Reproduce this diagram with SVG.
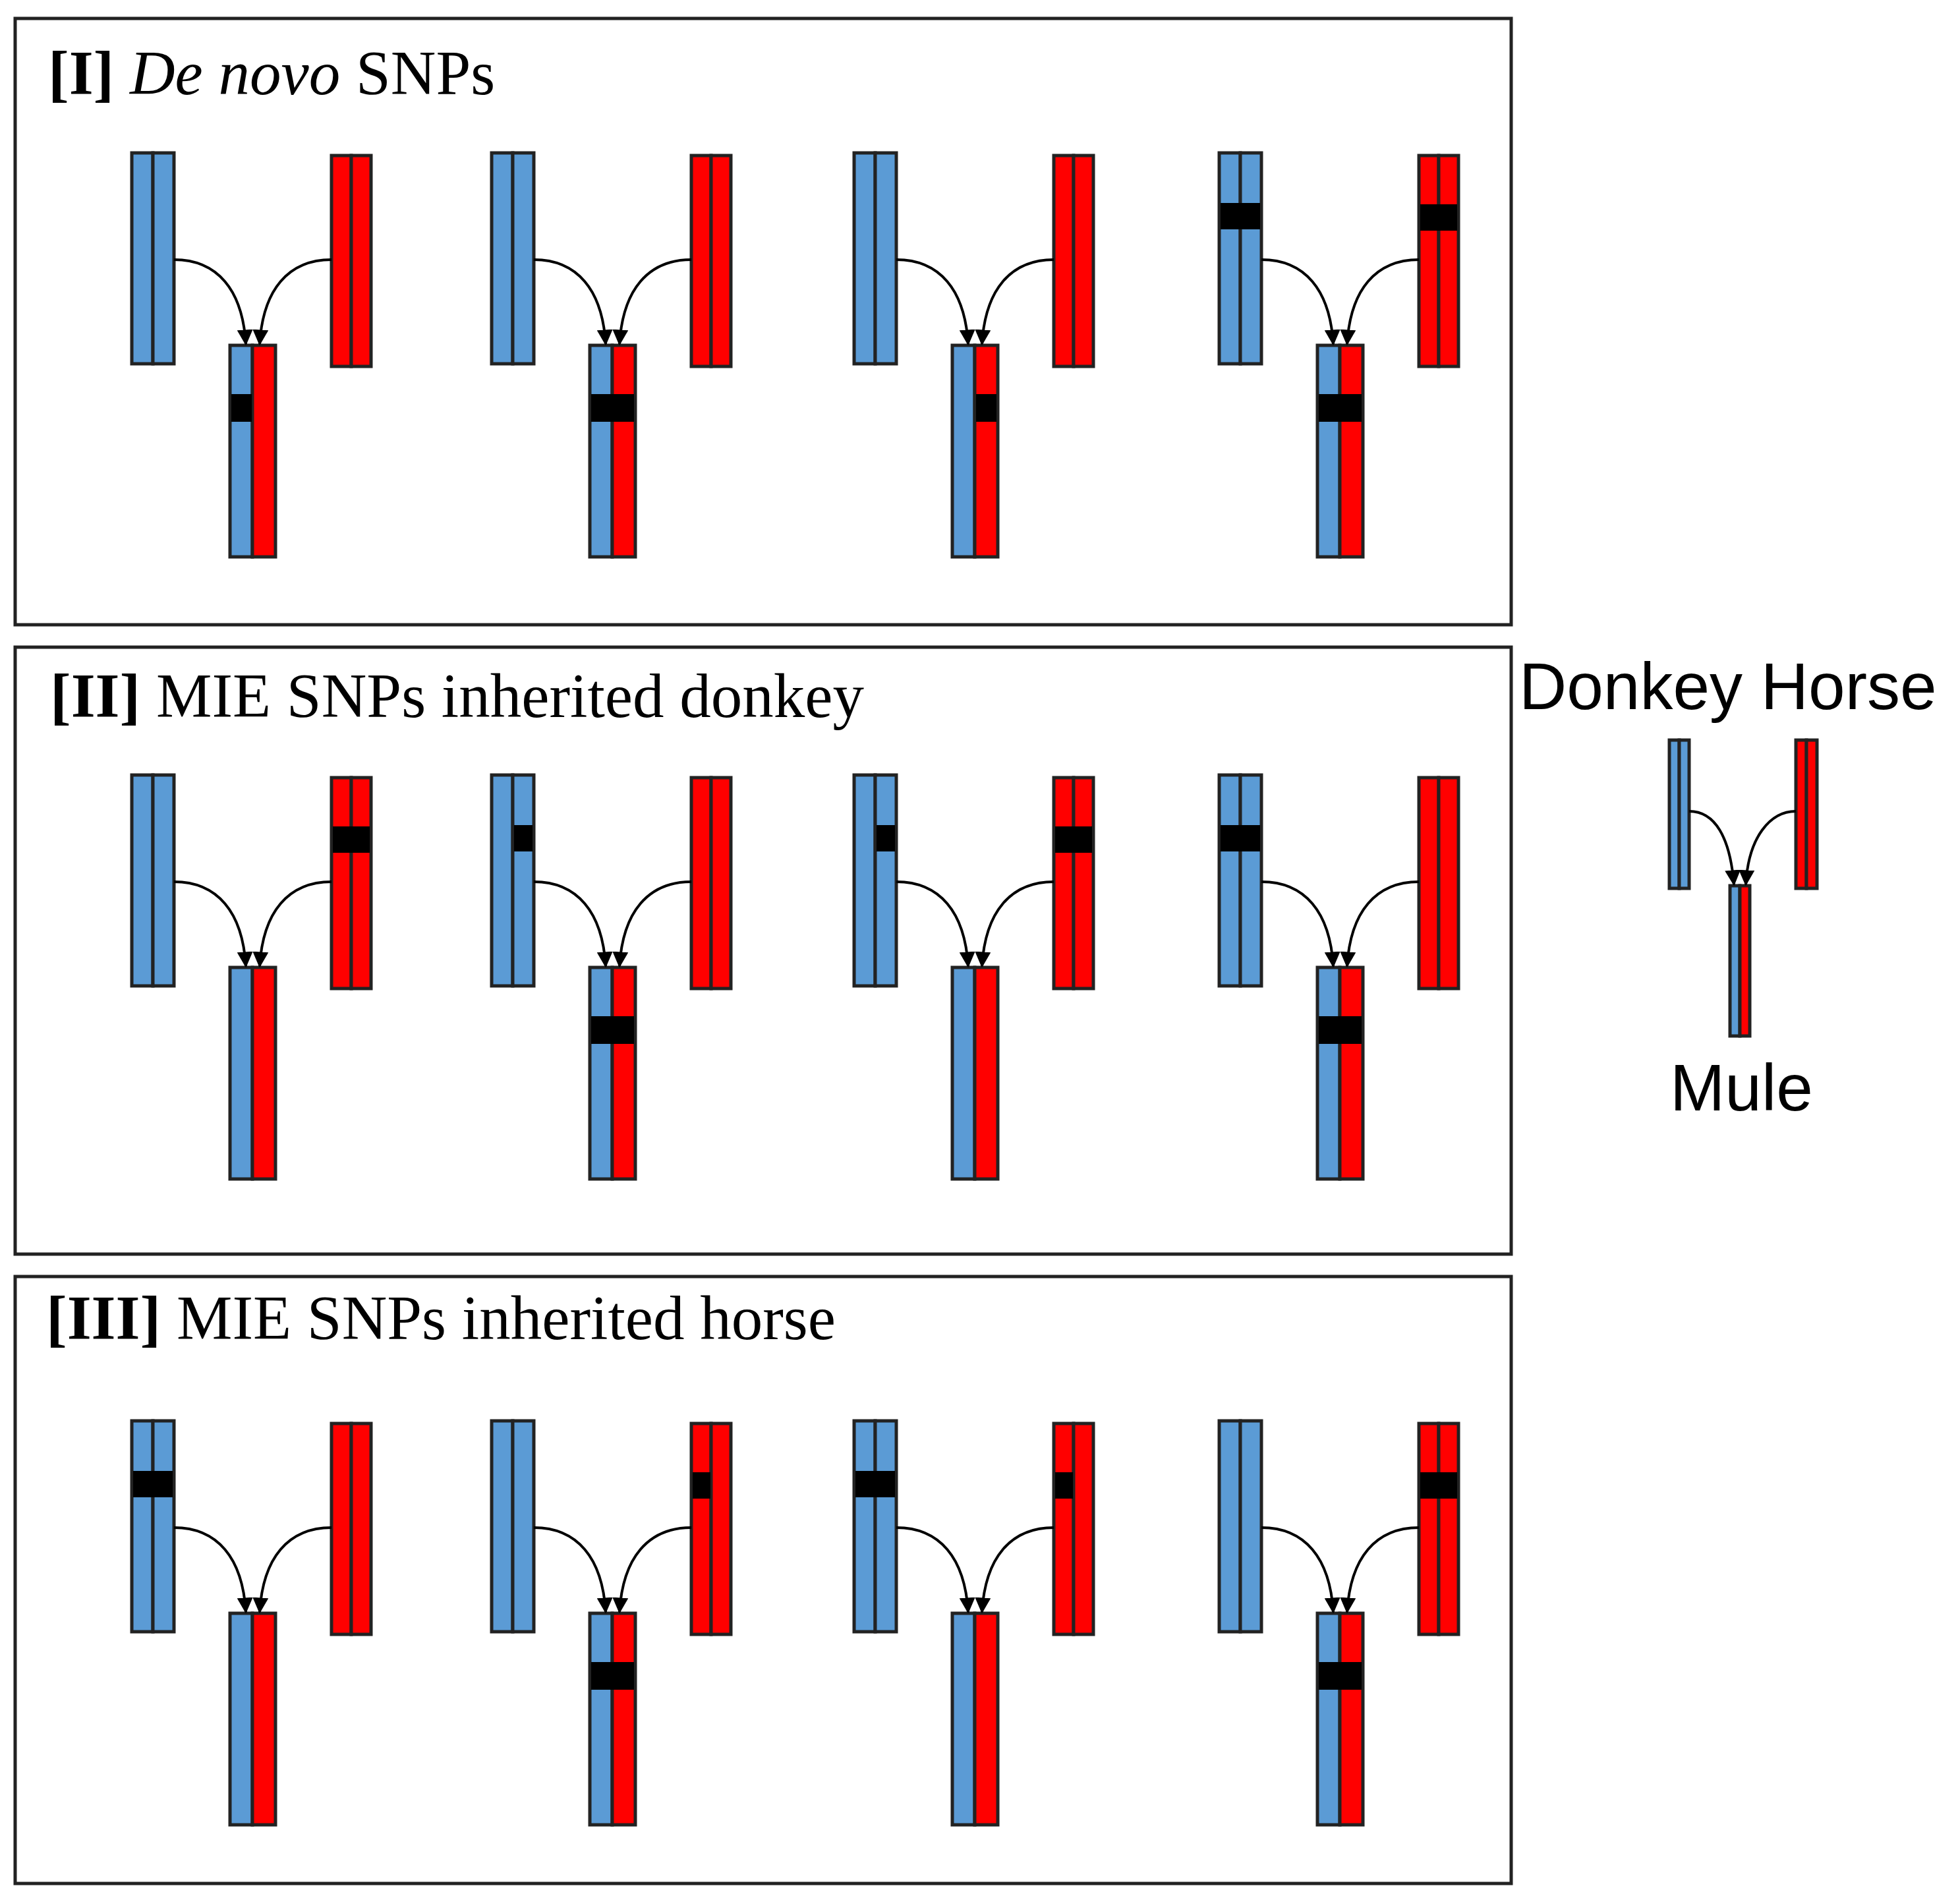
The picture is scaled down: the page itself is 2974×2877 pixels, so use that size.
<svg xmlns="http://www.w3.org/2000/svg" xmlns:xlink="http://www.w3.org/1999/xlink" width="2974" height="2877" viewBox="0 0 2974 2877">
<style>
.panel{fill:none;stroke:#222;stroke-width:5}
.b{fill:#5b9bd5;stroke:#222;stroke-width:5}
.r{fill:#ff0000;stroke:#222;stroke-width:5}
.k{fill:#000}
.c{fill:none;stroke:#000;stroke-width:4;marker-end:url(#ah)}
.t{font-family:"Liberation Serif",serif;font-size:95px;fill:#000}
.s{font-family:"Liberation Sans",Arial,sans-serif;font-size:100px;fill:#000}
</style>
<defs>
<marker id="ah" viewBox="0 0 10 10" refX="9" refY="5" markerWidth="6" markerHeight="6" orient="auto" markerUnits="strokeWidth"><path d="M0,0 L10,5 L0,10 z" fill="#000"/></marker>
<g id="chr">
<rect class="b" x="200" y="232" width="32" height="320"/><rect class="b" x="232" y="232" width="32" height="320"/>
<rect class="r" x="503" y="236" width="30" height="320"/><rect class="r" x="533" y="236" width="30" height="320"/>
<rect class="b" x="349" y="524" width="34" height="321"/><rect class="r" x="383" y="524" width="35" height="321"/>
</g>
<g id="arr">
<path class="c" d="M264,394 C330,394 368,440 373,522"/>
<path class="c" d="M503,394 C437,394 399,440 394,522"/>
</g>
<rect id="DB" class="k" x="202" y="308" width="60" height="40"/>
<rect id="DR" class="k" x="234" y="308" width="28" height="40"/>
<rect id="HB" class="k" x="505" y="310" width="56" height="40"/>
<rect id="HL" class="k" x="505" y="310" width="27" height="40"/>
<rect id="MB" class="k" x="351" y="598" width="65" height="42"/>
<rect id="ML" class="k" x="351" y="598" width="31" height="42"/>
<rect id="MR" class="k" x="385" y="598" width="31" height="42"/>
</defs>
<g id="panels">
<rect class="panel" x="23" y="28" width="2270" height="920"/>
<rect class="panel" x="23" y="982" width="2270" height="921"/>
<rect class="panel" x="23" y="1937" width="2270" height="921"/>
<text class="t" x="73" y="143"><tspan font-weight="bold">[I]</tspan> <tspan font-style="italic">De novo</tspan> SNPs</text>
<text class="t" x="76" y="1088"><tspan font-weight="bold">[II]</tspan> MIE SNPs inherited donkey</text>
<text class="t" x="70" y="2032"><tspan font-weight="bold">[III]</tspan> MIE SNPs inherited horse</text>
</g>
<g id="p1m1"><use href="#chr"/><use href="#ML"/></g>
<g id="p1m2" transform="translate(546,0)"><use href="#chr"/><use href="#MB"/></g>
<g id="p1m3" transform="translate(1096,0)"><use href="#chr"/><use href="#MR"/></g>
<g id="p1m4" transform="translate(1650,0)"><use href="#chr"/><use href="#DB"/><use href="#HB"/><use href="#MB"/></g>
<g id="p2m1" transform="translate(0,944)"><use href="#chr"/><use href="#HB"/></g>
<g id="p2m2" transform="translate(546,944)"><use href="#chr"/><use href="#DR"/><use href="#MB"/></g>
<g id="p2m3" transform="translate(1096,944)"><use href="#chr"/><use href="#DR"/><use href="#HB"/></g>
<g id="p2m4" transform="translate(1650,944)"><use href="#chr"/><use href="#DB"/><use href="#MB"/></g>
<g id="p3m1" transform="translate(0,1924)"><use href="#chr"/><use href="#DB"/></g>
<g id="p3m2" transform="translate(546,1924)"><use href="#chr"/><use href="#HL"/><use href="#MB"/></g>
<g id="p3m3" transform="translate(1096,1924)"><use href="#chr"/><use href="#DB"/><use href="#HL"/></g>
<g id="p3m4" transform="translate(1650,1924)"><use href="#chr"/><use href="#HB"/><use href="#MB"/></g>
<g id="legend">
<text class="s" x="2305" y="1076">Donkey Horse</text>
<rect class="b" x="2533" y="1123" width="15" height="225" stroke-width="4"/><rect class="b" x="2548" y="1123" width="15" height="225" stroke-width="4"/>
<rect class="r" x="2725" y="1123" width="16" height="225" stroke-width="4"/><rect class="r" x="2741" y="1123" width="16" height="225" stroke-width="4"/>
<rect class="b" x="2625" y="1344" width="15" height="228" stroke-width="4"/><rect class="r" x="2640" y="1344" width="15" height="228" stroke-width="4"/>
<text class="s" x="2534" y="1685">Mule</text>
</g>
<g id="connectors">
<use href="#arr"/>
<use href="#arr" transform="translate(546,0)"/>
<use href="#arr" transform="translate(1096,0)"/>
<use href="#arr" transform="translate(1650,0)"/>
<use href="#arr" transform="translate(0,944)"/>
<use href="#arr" transform="translate(546,944)"/>
<use href="#arr" transform="translate(1096,944)"/>
<use href="#arr" transform="translate(1650,944)"/>
<use href="#arr" transform="translate(0,1924)"/>
<use href="#arr" transform="translate(546,1924)"/>
<use href="#arr" transform="translate(1096,1924)"/>
<use href="#arr" transform="translate(1650,1924)"/>
<path class="c" stroke-width="3" d="M2563,1231 C2602,1231 2625,1270 2631,1342"/>
<path class="c" stroke-width="3" d="M2725,1231 C2686,1231 2653,1270 2649,1342"/>
</g>
</svg>
